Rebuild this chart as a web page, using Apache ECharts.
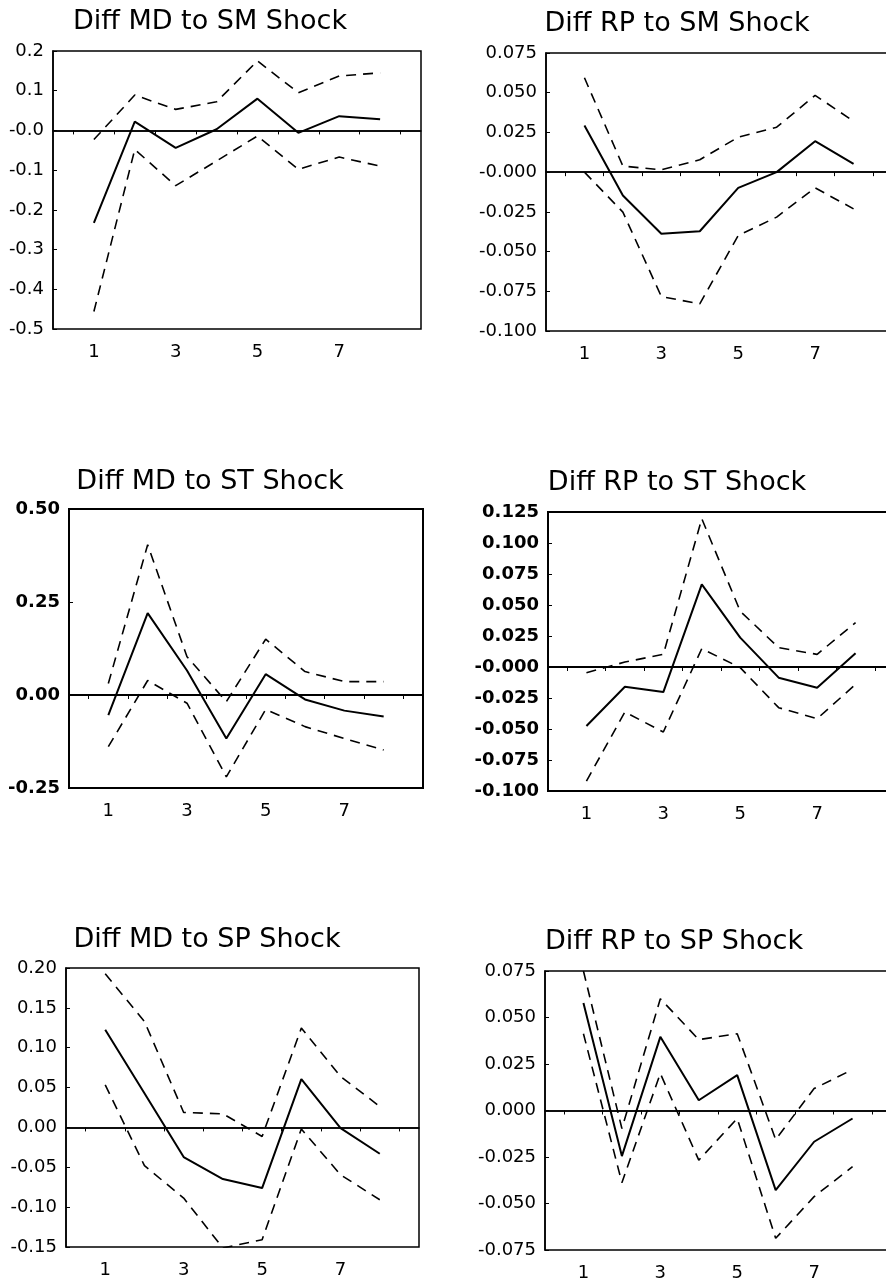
<!DOCTYPE html>
<html>
<head>
<meta charset="utf-8">
<script src="https://cdn.jsdelivr.net/npm/echarts@6/dist/echarts.min.js"></script>
<style>
html,body{margin:0;padding:0;background:#fff;}
#chart{width:886px;height:1284px;}
</style>
</head>
<body>
<div id="chart"></div>
<script>
// periods of the impulse response
var periods = [1, 2, 3, 4, 5, 6, 7, 8];
var xLabelValues = [1, 3, 5, 7];
var xTickValues = [0.5, 1.5, 2.5, 3.5, 4.5, 5.5, 6.5, 7.5, 8.5];

// Diff MD to SM Shock
var mdSmMid = [-0.233, 0.022, -0.044, 0.003, 0.080, -0.006, 0.036, 0.028];
var mdSmUp  = [-0.023, 0.089, 0.053, 0.072, 0.175, 0.095, 0.137, 0.145];
var mdSmLo  = [-0.456, -0.048, -0.139, -0.077, -0.014, -0.098, -0.067, -0.090];
var mdSmTicks  = [-0.5, -0.4, -0.3, -0.2, -0.1, 0, 0.1, 0.2];
var mdSmLabels = ['-0.5', '-0.4', '-0.3', '-0.2', '-0.1', '-0.0', '0.1', '0.2'];

// Diff RP to SM Shock
var rpSmMid = [0.0294, -0.0147, -0.0388, -0.0372, -0.0099, 0.0000, 0.0195, 0.0052];
var rpSmUp  = [0.0594, 0.0038, 0.0015, 0.0078, 0.0220, 0.0283, 0.0483, 0.0321];
var rpSmLo  = [0.0000, -0.0252, -0.0783, -0.0829, -0.0399, -0.0283, -0.0099, -0.0231];
var rpSmTicks  = [-0.1, -0.075, -0.05, -0.025, 0, 0.025, 0.05, 0.075];
var rpSmLabels = ['-0.100', '-0.075', '-0.050', '-0.025', '-0.000', '0.025', '0.050', '0.075'];

// Diff MD to ST Shock
var mdStMid = [-0.054, 0.220, 0.066, -0.117, 0.056, -0.012, -0.042, -0.058];
var mdStUp  = [0.031, 0.404, 0.103, -0.018, 0.150, 0.063, 0.036, 0.036];
var mdStLo  = [-0.139, 0.039, -0.022, -0.220, -0.039, -0.085, -0.117, -0.148];
var mdStTicks  = [-0.25, 0, 0.25, 0.5];
var mdStLabels = ['-0.25', '0.00', '0.25', '0.50'];

// Diff RP to ST Shock
var rpStMid = [-0.0476, -0.0159, -0.0202, 0.0667, 0.0237, -0.0086, -0.0167, 0.0110];
var rpStUp  = [-0.0046, 0.0040, 0.0102, 0.1196, 0.0450, 0.0156, 0.0102, 0.0358];
var rpStLo  = [-0.0920, -0.0363, -0.0524, 0.0148, -0.0005, -0.0328, -0.0417, -0.0140];
var rpStTicks  = [-0.1, -0.075, -0.05, -0.025, 0, 0.025, 0.05, 0.075, 0.1, 0.125];
var rpStLabels = ['-0.100', '-0.075', '-0.050', '-0.025', '-0.000', '0.025', '0.050', '0.075', '0.100', '0.125'];

// Diff MD to SP Shock
var mdSpMid = [0.1225, 0.043, -0.0372, -0.0648, -0.0761, 0.0606, -0.0008, -0.033];
var mdSpUp  = [0.1927, 0.133, 0.0188, 0.0171, -0.0113, 0.1246, 0.064, 0.0263];
var mdSpLo  = [0.0535, -0.048, -0.0886, -0.1513, -0.1409, -0.002, -0.0594, -0.0907];
var mdSpTicks  = [-0.15, -0.1, -0.05, 0, 0.05, 0.1, 0.15, 0.2];
var mdSpLabels = ['-0.15', '-0.10', '-0.05', '0.00', '0.05', '0.10', '0.15', '0.20'];

// Diff RP to SP Shock
var rpSpMid = [0.0578, -0.0245, 0.0396, 0.0055, 0.0190, -0.0428, -0.0168, -0.0043];
var rpSpUp  = [0.0750, -0.0097, 0.0601, 0.0381, 0.0413, -0.0156, 0.0118, 0.0220];
var rpSpLo  = [0.0413, -0.0388, 0.0199, -0.0267, -0.0043, -0.0687, -0.0463, -0.0302];
var rpSpTicks  = [-0.075, -0.05, -0.025, 0, 0.025, 0.05, 0.075];
var rpSpLabels = ['-0.075', '-0.050', '-0.025', '0.000', '0.025', '0.050', '0.075'];

var panels = [
    {title: 'Diff MD to SM Shock', mid: mdSmMid, up: mdSmUp, lo: mdSmLo, ticks: mdSmTicks, labels: mdSmLabels},
    {title: 'Diff RP to SM Shock', mid: rpSmMid, up: rpSmUp, lo: rpSmLo, ticks: rpSmTicks, labels: rpSmLabels},
    {title: 'Diff MD to ST Shock', mid: mdStMid, up: mdStUp, lo: mdStLo, ticks: mdStTicks, labels: mdStLabels},
    {title: 'Diff RP to ST Shock', mid: rpStMid, up: rpStUp, lo: rpStLo, ticks: rpStTicks, labels: rpStLabels},
    {title: 'Diff MD to SP Shock', mid: mdSpMid, up: mdSpUp, lo: mdSpLo, ticks: mdSpTicks, labels: mdSpLabels},
    {title: 'Diff RP to SP Shock', mid: rpSpMid, up: rpSpUp, lo: rpSpLo, ticks: rpSpTicks, labels: rpSpLabels}
];

// plot boxes in pixels, title centres, and how heavy the scan printed each frame
// (right-hand boxes run past the page edge, as in the scan)
var boxes = [
    {left: 53,  top: 51,  width: 368, height: 278, tx: 210, ty: 22,  border: 1.5, bold: false},
    {left: 546, top: 53,  width: 346, height: 278, tx: 677, ty: 24,  border: 1.5, bold: false},
    {left: 69,  top: 509, width: 354, height: 279, tx: 210, ty: 482, border: 2,   bold: true},
    {left: 548, top: 512, width: 346, height: 279, tx: 677, ty: 483, border: 2,   bold: true},
    {left: 66,  top: 968, width: 353, height: 279, tx: 207, ty: 940, border: 1.5, bold: false},
    {left: 545, top: 971, width: 346, height: 279, tx: 674, ty: 942, border: 1.5, bold: false}
];

var font = 'DejaVu Sans';
var title = [], grid = [], xAxis = [], yAxis = [], series = [];

function pairs(vals) {
    var out = [];
    for (var i = 0; i < periods.length; i++) out.push([periods[i], vals[i]]);
    return out;
}

for (let i = 0; i < panels.length; i++) {
    let p = panels[i], b = boxes[i];
    title.push({
        text: p.title,
        left: b.tx,
        top: b.ty,
        padding: 0,
        textAlign: 'center',
        textVerticalAlign: 'middle',
        textStyle: {fontFamily: font, fontSize: 27, fontWeight: 'normal', color: '#000'}
    });
    grid.push({
        left: b.left, top: b.top, width: b.width, height: b.height,
        outerBoundsMode: 'none',
        containLabel: false,
        show: true, borderColor: '#000', borderWidth: b.border, backgroundColor: 'transparent'
    });
    xAxis.push({
        type: 'value',
        gridIndex: i,
        min: 0,
        max: 9,
        splitLine: {show: false},
        axisLine: {lineStyle: {color: '#000', width: b.border}},
        axisTick: {show: true, length: 4, customValues: xTickValues, lineStyle: {color: '#000'}},
        axisLabel: {
            customValues: xLabelValues,
            margin: 14,
            color: '#000',
            fontFamily: font,
            fontSize: 18
        }
    });
    yAxis.push({
        type: 'value',
        gridIndex: i,
        min: p.ticks[0],
        max: p.ticks[p.ticks.length - 1],
        splitLine: {show: false},
        axisLine: {lineStyle: {color: '#000', width: b.border}},
        axisTick: {show: true, inside: true, length: 4, customValues: p.ticks, lineStyle: {color: '#000'}},
        axisLabel: {
            customValues: p.ticks,
            margin: 9,
            color: '#000',
            fontFamily: font,
            fontSize: 18,
            fontWeight: b.bold ? 'bold' : 'normal',
            formatter: function (v) {
                for (var k = 0; k < p.ticks.length; k++) {
                    if (Math.abs(p.ticks[k] - v) < 1e-9) return p.labels[k];
                }
                return '';
            }
        }
    });
    series.push({
        type: 'line', xAxisIndex: i, yAxisIndex: i,
        data: pairs(p.mid), showSymbol: false, silent: true,
        lineStyle: {color: '#000', width: 2},
        markLine: {
            silent: true, symbol: 'none', label: {show: false},
            lineStyle: {color: '#000', type: 'solid', width: 1.5},
            data: [{yAxis: 0}]
        }
    });
    series.push({
        type: 'line', xAxisIndex: i, yAxisIndex: i,
        data: pairs(p.up), showSymbol: false, silent: true,
        lineStyle: {color: '#000', width: 1.6, type: [10, 7]}
    });
    series.push({
        type: 'line', xAxisIndex: i, yAxisIndex: i,
        data: pairs(p.lo), showSymbol: false, silent: true,
        lineStyle: {color: '#000', width: 1.6, type: [10, 7]}
    });
}

var myChart = echarts.init(document.getElementById('chart'), null, {renderer: 'canvas'});
myChart.setOption({
    backgroundColor: '#fff',
    animation: false,
    title: title,
    grid: grid,
    xAxis: xAxis,
    yAxis: yAxis,
    series: series
});
</script>
</body>
</html>
